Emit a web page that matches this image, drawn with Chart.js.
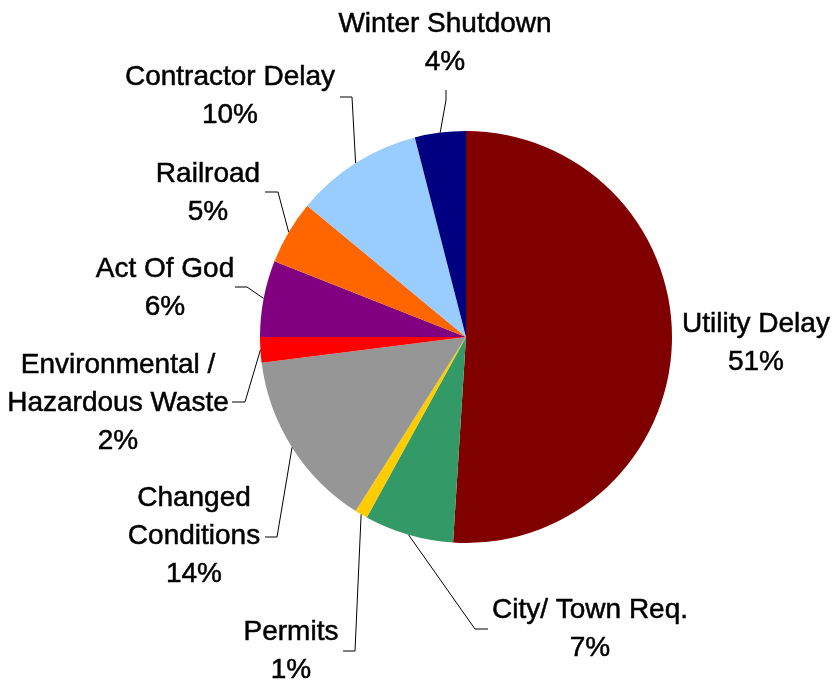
<!DOCTYPE html>
<html>
<head>
<meta charset="utf-8">
<script src="https://cdn.jsdelivr.net/npm/chart.js@4.4.0/dist/chart.umd.min.js"></script>
<style>
  html, body { margin: 0; padding: 0; background: #fff; }
  #wrap { width: 832px; height: 683px; position: relative; }
</style>
</head>
<body>
<div id="wrap"><canvas id="delayChart"></canvas></div>
<script>
// delay causes, clockwise from 12 o'clock
const causes = [
  ["Utility Delay"],
  ["City/ Town Req."],
  ["Permits"],
  ["Changed", "Conditions"],
  ["Environmental /", "Hazardous Waste"],
  ["Act Of God"],
  ["Railroad"],
  ["Contractor Delay"],
  ["Winter Shutdown"]
];
const shares = [51, 7, 1, 14, 2, 6, 5, 10, 4];
const sliceColors = [
  "#800000", "#339966", "#FFCC00", "#969696", "#FF0000",
  "#800080", "#FF6600", "#99CCFF", "#000080"
];

// where each label block sits: center x, first baseline, and the leader line
// bend / end points (null = no leader line)
const labelSpots = [
  { x: 756, y: 332, bend: null, end: null },
  { x: 590, y: 618, bend: [475, 629], end: [488, 629] },
  { x: 291, y: 640, bend: [355, 651], end: [343, 651] },
  { x: 194, y: 506, bend: [277, 537], end: [265, 537] },
  { x: 118, y: 373, bend: [245, 402], end: [232, 402] },
  { x: 165, y: 277, bend: [247, 287], end: [235, 287] },
  { x: 208, y: 182, bend: [278, 192], end: [265, 192] },
  { x: 230, y: 85,  bend: [352, 97],  end: [340, 97] },
  { x: 445, y: 32,  bend: [446, 100], end: [446, 90] }
];

const lineGap = 38;
const labelFont = "28px 'Liberation Sans', Arial, sans-serif";

const pieLabels = {
  id: "pieLabels",
  afterDatasetsDraw(chart) {
    const ctx = chart.ctx;
    const arcs = chart.getDatasetMeta(0).data;
    ctx.save();
    arcs.forEach((arc, i) => {
      const spot = labelSpots[i];
      const p = arc.getProps(["x", "y", "startAngle", "endAngle", "outerRadius"], true);
      const mid = (p.startAngle + p.endAngle) / 2;
      if (spot.bend) {
        const ax = p.x + Math.cos(mid) * p.outerRadius;
        const ay = p.y + Math.sin(mid) * p.outerRadius;
        ctx.beginPath();
        ctx.moveTo(ax, ay);
        ctx.lineTo(spot.bend[0], spot.bend[1]);
        ctx.lineTo(spot.end[0], spot.end[1]);
        ctx.strokeStyle = "#000";
        ctx.lineWidth = 1;
        ctx.stroke();
      }
      const lines = causes[i].concat([shares[i] + "%"]);
      ctx.fillStyle = "#000";
      ctx.strokeStyle = "#000";
      ctx.lineWidth = 0.5;
      ctx.font = labelFont;
      ctx.textAlign = "center";
      ctx.textBaseline = "alphabetic";
      lines.forEach((t, k) => {
        ctx.fillText(t, spot.x, spot.y + k * lineGap);
        ctx.strokeText(t, spot.x, spot.y + k * lineGap);
      });
    });
    ctx.restore();
  }
};

new Chart("delayChart", {
  type: "pie",
  data: {
    labels: causes.map(c => c.join(" ")),
    datasets: [{
      data: shares,
      backgroundColor: sliceColors,
      borderWidth: 0,
      hoverOffset: 0
    }]
  },
  options: {
    responsive: true,
    maintainAspectRatio: false,
    animation: false,
    layout: { padding: { left: 260, top: 131, right: 160, bottom: 140 } },
    plugins: {
      legend: { display: false },
      tooltip: { enabled: false }
    }
  },
  plugins: [pieLabels]
});
</script>
</body>
</html>
